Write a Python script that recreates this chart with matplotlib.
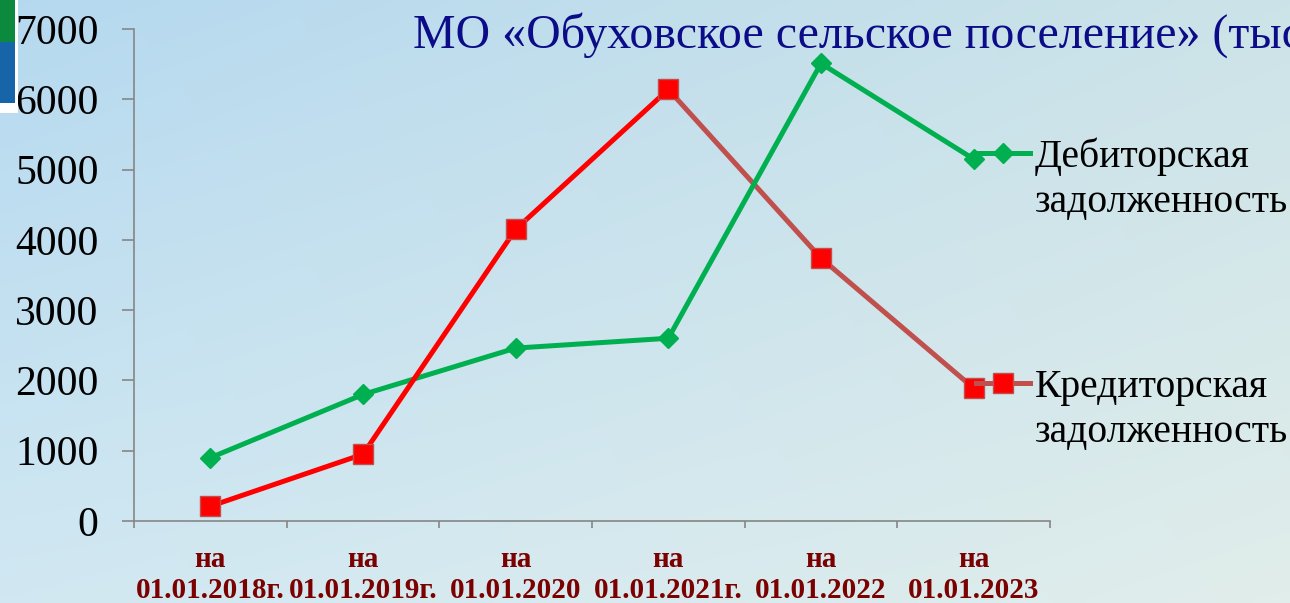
import numpy as np
import matplotlib
matplotlib.use("Agg")
import matplotlib.pyplot as plt
from matplotlib.lines import Line2D
from matplotlib.patches import Rectangle

# data
dates = ["на\n01.01.2018г.", "на\n01.01.2019г.", "на\n01.01.2020",
         "на\n01.01.2021г.", "на\n01.01.2022", "на\n01.01.2023"]
debit = [900, 1800, 2460, 2600, 6510, 5150]
kredit = [210, 950, 4150, 6140, 3740, 1890]
yticks = [0, 1000, 2000, 3000, 4000, 5000, 6000, 7000]
title = "МО «Обуховское сельское поселение» (тыс. руб.)"
debit_name = ["Дебиторская", "задолженность"]
kredit_name = ["Кредиторская", "задолженность"]

GREEN = "#00B050"
RED = "#FF0000"
BROWN = "#C0504D"
GRAY = "#868686"
SERIF = "Liberation Serif"

W, H = 1290, 603
fig = plt.figure(figsize=(W / 100, H / 100), dpi=100)

# slide background gradient
bg = fig.add_axes([0, 0, 1, 1], zorder=-10)
gx = np.linspace(0, 1, 200)[None, :, None]
gy = np.linspace(0, 1, 120)[:, None, None]
tl = np.array([0.71, 0.85, 0.94])
tr = np.array([0.80, 0.89, 0.91])
bl = np.array([0.82, 0.91, 0.95])
br = np.array([0.88, 0.93, 0.92])
grad = (1 - gy) * ((1 - gx) * tl + gx * tr) + gy * ((1 - gx) * bl + gx * br)
bg.imshow(grad, extent=[0, 1, 0, 1], aspect="auto", interpolation="bilinear")
bg.axis("off")

# bit of the logo at the top-left edge
fig.patches.append(Rectangle((0, 1 - 113 / H), 18 / W, 113 / H, transform=fig.transFigure,
                             facecolor="white", edgecolor="none"))
fig.patches.append(Rectangle((0, 1 - 42 / H), 15 / W, 42 / H, transform=fig.transFigure,
                             facecolor="#0b8a3e", edgecolor="none"))
fig.patches.append(Rectangle((0, 1 - 103 / H), 15 / W, 61 / H, transform=fig.transFigure,
                             facecolor="#1565a8", edgecolor="none"))

ax = fig.add_axes([134 / W, 82 / H, (1050 - 134) / W, (521 - 29) / H])
ax.patch.set_alpha(0)
x = np.arange(len(dates))

ax.plot(x, debit, color=GREEN, lw=3.6, marker="D", ms=10, zorder=3)
ax.plot(x[3:], kredit[3:], color=BROWN, lw=3.6, zorder=2)
ax.plot(x[:4], kredit[:4], color=RED, lw=3.6, zorder=4)
ax.plot(x, kredit, ls="none", marker="s", ms=14, mfc=RED, mec=BROWN, mew=1, zorder=5)

ax.set_xlim(-0.5, len(dates) - 0.5)
ax.set_ylim(0, 7000)
ax.set_yticks(yticks)
ax.set_yticklabels([str(v) for v in yticks], fontsize=30, family=SERIF)
ax.tick_params(axis="y", length=8.6, width=1.2, color=GRAY, pad=17)
ax.set_xticks(x)
ax.set_xticklabels(dates, fontsize=21, family=SERIF, fontweight="bold", color="#7B0000",
                   linespacing=1.2)
ax.tick_params(axis="x", which="major", length=0, pad=18)
ax.set_xticks(np.arange(-0.5, len(dates)), minor=True)
ax.tick_params(axis="x", which="minor", length=5, width=1.2, color=GRAY)
for s in ["top", "right"]:
    ax.spines[s].set_visible(False)
for s in ["left", "bottom"]:
    ax.spines[s].set_color(GRAY)
    ax.spines[s].set_linewidth(1.2)

# the slide title runs past the right edge, as on the original
fig.text(413 / W, 1 - 48 / H, title, fontsize=34.5, color="#0c0c88", family=SERIF, va="baseline")

# legend on the right, one entry per series
h1 = Line2D([], [], color=GREEN, lw=3.6, marker="D", ms=10)
h2 = Line2D([], [], color=BROWN, lw=3.6, marker="s", ms=14, mfc=RED, mec=BROWN, mew=1)
fs = 28.5
for h, name, yc in [(h1, debit_name, 157), (h2, kredit_name, 387)]:
    leg = fig.legend([h], [name[0]], loc="center left", bbox_to_anchor=(976 / W, 1 - yc / H),
                     frameon=False, prop={"family": SERIF, "size": fs},
                     handlelength=1.36, handletextpad=0.12, borderpad=0, borderaxespad=0)
    fig.text(1035 / W, 1 - (yc + 45) / H, name[1], fontsize=fs, family=SERIF, va="center")

fig.savefig("out.png", dpi=100)
